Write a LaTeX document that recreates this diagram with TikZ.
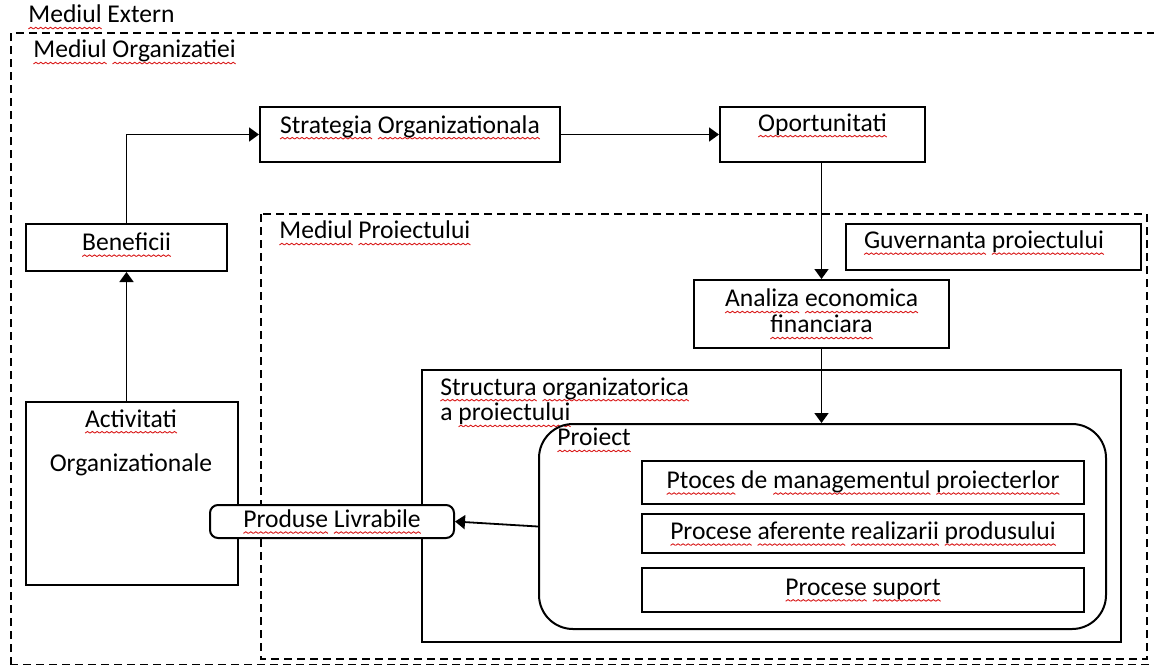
\documentclass[tikz,border=0pt]{standalone}
\usepackage{fontspec}
\setmainfont{Carlito}
\usetikzlibrary{arrows.meta,positioning}

% red wavy spell-check mark under a word
\newcommand\wavepiece{\hbox to 2.4pt{\special{pdf:literal q 0.85 0.1 0.1 RG 0.45 w 0 0 m 1.2 0.8 l 2.4 0 l S Q}\hss}}
\newcommand\sq[1]{\leavevmode\setbox0\hbox{#1}%
    \rlap{\lower3pt\hbox to\wd0{\xleaders\wavepiece\hfil}}\box0\relax}

\begin{document}
\begin{tikzpicture}[
        x=0.5pt,
        y=-0.5pt,
        font=\fontsize{12.8}{13}\selectfont,
        box/.style={draw, line width=1pt, inner sep=0pt, anchor=north west},
        env/.style={draw, line width=1pt, dash pattern=on 4pt off 2.5pt},
        title/.style={anchor=west, inner sep=0pt},
        link/.style={line width=0.9pt, -{Triangle[length=5pt,width=7pt]}}
    ]
        \useasboundingbox (0,0) rectangle (1154,664);

        % environments
        \draw[env] (11,665) rectangle (1170,33);
        \draw[env] (261,214) rectangle (1147,659);
        \node[title] (extern) at (28,17) {\sq{Mediul} Extern};
        \node[title] (orgenv) at (33,52) {\sq{Mediul} \sq{Organizatiei}};
        \node[title] (projenv) at (279,233) {\sq{Mediul} \sq{Proiectului}};

        % top row
        \node[box, minimum width=150pt, text height=13pt, text depth=14.5pt]
            (strat) at (259,106) {\sq{Strategia} \sq{Organizationala}};
        \node[box, minimum width=102.5pt, text height=12pt, text depth=15.5pt]
            (opor) at (719,106) {\sq{Oportunitati}};

        % left column
        \node[box, minimum width=100.5pt, text height=13.25pt, text depth=10.25pt]
            (benef) at (25,223) {\sq{Beneficii}};
        \node[box, minimum width=106pt, minimum height=91.5pt] (act) at (25,401) {};
        \node[anchor=north, inner sep=0pt, align=center] (actT) at (131,409)
            {\sq{Activitati}\\[9pt]Organizationale};

        % project side
        \node[box, inner xsep=9pt, text height=12.25pt, text depth=10.75pt]
            (guv) at (845,223) {\makebox[129.5pt][l]{\sq{Guvernanta} \sq{proiectului}}};
        \node[box, minimum width=127.5pt, minimum height=34pt, align=center]
            (anal) at (693,279) {\sq{Analiza} \sq{economica}\\\sq{financiara}};

        \node[box, minimum width=349.5pt, minimum height=136pt] (struct) at (421,369) {};
        \node[anchor=north west, inner sep=0pt, align=left,
            font=\fontsize{12.8}{11.8}\selectfont] (structT) at (440,377)
            {\sq{Structura} \sq{organizatorica}\\a \sq{proiectului}};

        \node[box, minimum width=283.5pt, minimum height=102.5pt, rounded corners=17pt]
            (proj) at (538,423) {};
        \node[title] (projT) at (557,440) {\sq{Proiect}};
        \node[box, minimum width=221pt, minimum height=21.5pt] (mgmt) at (641,460)
            {\sq{Ptoces} de \sq{managementul} \sq{proiecterlor}};
        \node[box, minimum width=221pt, minimum height=19.5pt] (real) at (641,513)
            {\sq{Procese} \sq{aferente} \sq{realizarii} \sq{produsului}};
        \node[box, minimum width=221pt, minimum height=22pt] (supp) at (641,567)
            {\sq{Procese} \sq{suport}};

        \node[box, fill=white, rounded corners=4pt, minimum width=122pt, minimum height=16.5pt]
            (prod) at (209,504) {\sq{Produse} \sq{Livrabile}};

        % flows
        \draw[link] (act.north -| benef.south) -- (benef.south);
        \draw[link] (benef.north) |- (strat.west);
        \draw[link] (strat.east) -- (opor.west);
        \draw[link] (opor.south -| anal.north) -- (anal.north);
        \draw[link] (anal.south) -- (anal.south |- proj.north);
        \draw[link] (proj.west) -- (prod.east);
    \end{tikzpicture}
\end{document}
